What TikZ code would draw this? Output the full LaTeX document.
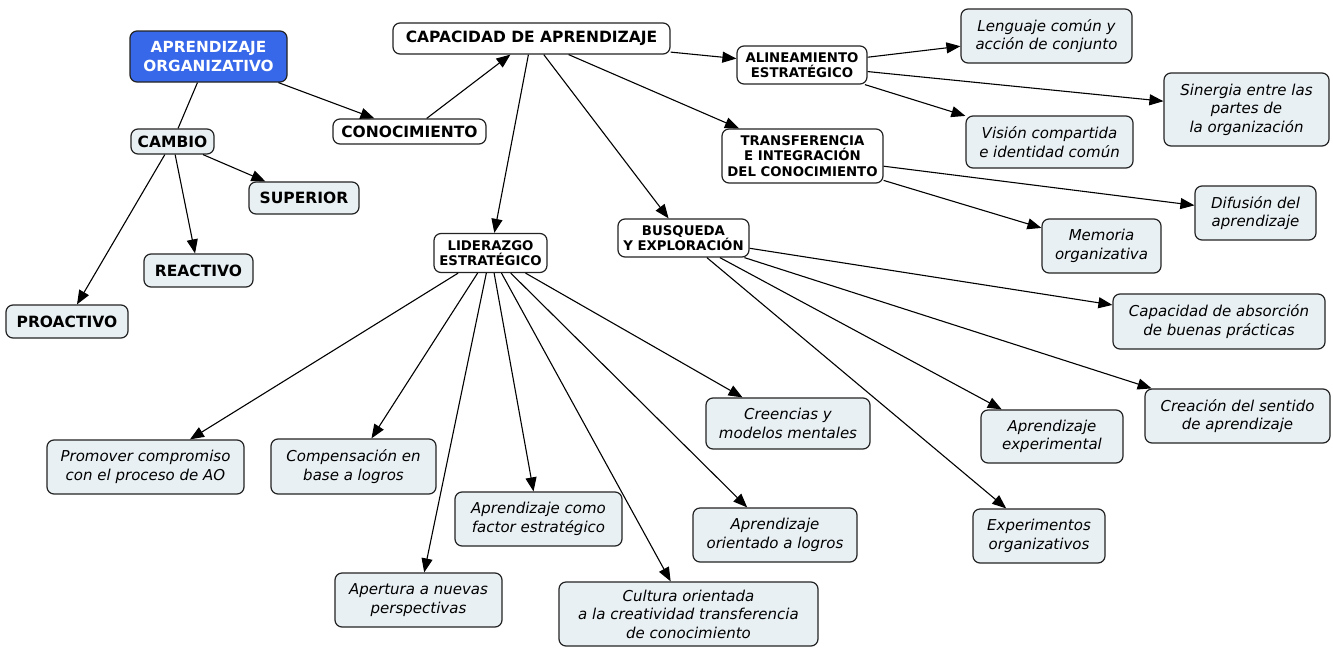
\documentclass[tikz,border=0pt]{standalone}
\usepackage{fontspec}
\setmainfont{DejaVu Sans}
\usetikzlibrary{arrows.meta}
\definecolor{lightfill}{RGB}{233,240,243}
\definecolor{aoblue}{RGB}{56,104,234}
\definecolor{edgecol}{RGB}{35,35,35}
\begin{document}
\begin{tikzpicture}[x=1pt,y=-1pt,
  box/.style={draw=edgecol, line width=1.2pt, rounded corners=7pt, inner sep=0pt, align=center},
  wbig/.style={box, fill=white, font=\fontsize{15.5}{18.3}\selectfont\bfseries},
  lbig/.style={box, fill=lightfill, font=\fontsize{15.5}{18.3}\selectfont\bfseries},
  bluebox/.style={box, fill=aoblue, text=white, font=\fontsize{15.3}{18.3}\selectfont\bfseries},
  wsmall/.style={box, fill=white, font=\fontsize{13.3}{15.3}\selectfont\bfseries},
  ital/.style={box, fill=lightfill, font=\fontsize{15}{18.4}\selectfont\itshape},
  arr/.style={-{Triangle[length=14pt,width=11pt]}, line width=1.1pt, draw=black},
  plain/.style={line width=1.1pt, draw=black},
]
\useasboundingbox (0,0) rectangle (1333,648);
\fill[white] (0,0) rectangle (1333,648);

% main concepts
\node[bluebox, minimum width=157pt, minimum height=51pt] (ao) at (208.5,56.5) {APRENDIZAJE\\ORGANIZATIVO};
\node[wbig, minimum width=277pt, minimum height=31pt] (cap) at (531.5,38.5) {CAPACIDAD DE APRENDIZAJE};
\node[wbig, minimum width=153pt, minimum height=25pt] (con) at (409.5,131.5) {CONOCIMIENTO};
\node[lbig, minimum width=83pt, minimum height=25pt] (cam) at (172.5,141.5) {CAMBIO};
\node[lbig, minimum width=110pt, minimum height=32pt] (sup) at (304,198) {SUPERIOR};
\node[lbig, minimum width=109pt, minimum height=33pt] (rea) at (198.5,270.5) {REACTIVO};
\node[lbig, minimum width=122pt, minimum height=33pt] (pro) at (67,321.5) {PROACTIVO};

\node[wsmall, minimum width=113pt, minimum height=39pt] (lid) at (490.5,253) {LIDERAZGO\\ESTRATÉGICO};
\node[wsmall, minimum width=131pt, minimum height=38pt] (bus) at (683.5,238) {BUSQUEDA\\Y EXPLORACIÓN};
\node[wsmall, minimum width=130pt, minimum height=38pt] (ali) at (802,65) {ALINEAMIENTO\\ESTRATÉGICO};
\node[wsmall, minimum width=161pt, minimum height=54pt] (tra) at (802.5,156) {TRANSFERENCIA\\E INTEGRACIÓN\\DEL CONOCIMIENTO};

% italic leaves
\node[ital, minimum width=171pt, minimum height=54pt] (len) at (1046.5,36) {Lenguaje común y\\acción de conjunto};
\node[ital, minimum width=165pt, minimum height=73pt] (sin) at (1246.5,109.5) {Sinergia entre las\\partes de\\la organización};
\node[ital, minimum width=167pt, minimum height=52pt] (vis) at (1049.5,142) {Visión compartida\\e identidad común};
\node[ital, minimum width=121pt, minimum height=54pt] (dif) at (1255.5,213) {Difusión del\\aprendizaje};
\node[ital, minimum width=119pt, minimum height=54pt] (mem) at (1101.5,246) {Memoria\\organizativa};
\node[ital, minimum width=212pt, minimum height=55pt] (abs) at (1219,321.5) {Capacidad de absorción\\de buenas prácticas};
\node[ital, minimum width=185pt, minimum height=54pt] (cre) at (1237.5,416) {Creación del sentido\\de aprendizaje};
\node[ital, minimum width=142pt, minimum height=53pt] (aex) at (1052,436.5) {Aprendizaje\\experimental};
\node[ital, minimum width=132pt, minimum height=54pt] (exo) at (1039,536) {Experimentos\\organizativos};
\node[ital, minimum width=164pt, minimum height=51pt] (crm) at (788,423.5) {Creencias y\\modelos mentales};
\node[ital, minimum width=164pt, minimum height=54pt] (aol) at (775,535) {Aprendizaje\\orientado a logros};
\node[ital, minimum width=259pt, minimum height=64pt] (cul) at (688.5,614) {Cultura orientada\\a la creatividad transferencia\\de conocimiento};
\node[ital, minimum width=167pt, minimum height=54pt] (acf) at (538.5,519) {Aprendizaje como\\factor estratégico};
\node[ital, minimum width=167pt, minimum height=54pt] (ape) at (418.5,600) {Apertura a nuevas\\perspectivas};
\node[ital, minimum width=165pt, minimum height=55pt] (com) at (353.5,466.5) {Compensación en\\base a logros};
\node[ital, minimum width=197pt, minimum height=54pt] (prm) at (145.5,467) {Promover compromiso\\con el proceso de AO};

% connectors
\draw[plain] (ao) -- (cam);
\draw[arr] (ao) -- (con);
\draw[arr] (con) -- (cap);
\draw[arr] (cam) -- (sup);
\draw[arr] (cam) -- (rea);
\draw[arr] (cam) -- (pro);

\draw[arr] (cap) -- (lid);
\draw[arr] (cap) -- (bus);
\draw[arr] (cap) -- (tra);
\draw[arr] (cap) -- (ali);

\draw[arr] (ali) -- (len);
\draw[arr] (ali) -- (sin);
\draw[arr] (ali) -- (vis);

\draw[arr] (tra) -- (dif);
\draw[arr] (tra) -- (mem);

\draw[arr] (bus) -- (abs);
\draw[arr] (bus) -- (cre);
\draw[arr] (bus) -- (aex);
\draw[arr] (bus) -- (exo);

\draw[arr] (lid) -- (prm);
\draw[arr] (lid) -- (com);
\draw[arr] (lid) -- (ape);
\draw[arr] (lid) -- (acf);
\draw[arr] (lid) -- (cul);
\draw[arr] (lid) -- (aol);
\draw[arr] (lid) -- (crm);
\end{tikzpicture}
\end{document}
